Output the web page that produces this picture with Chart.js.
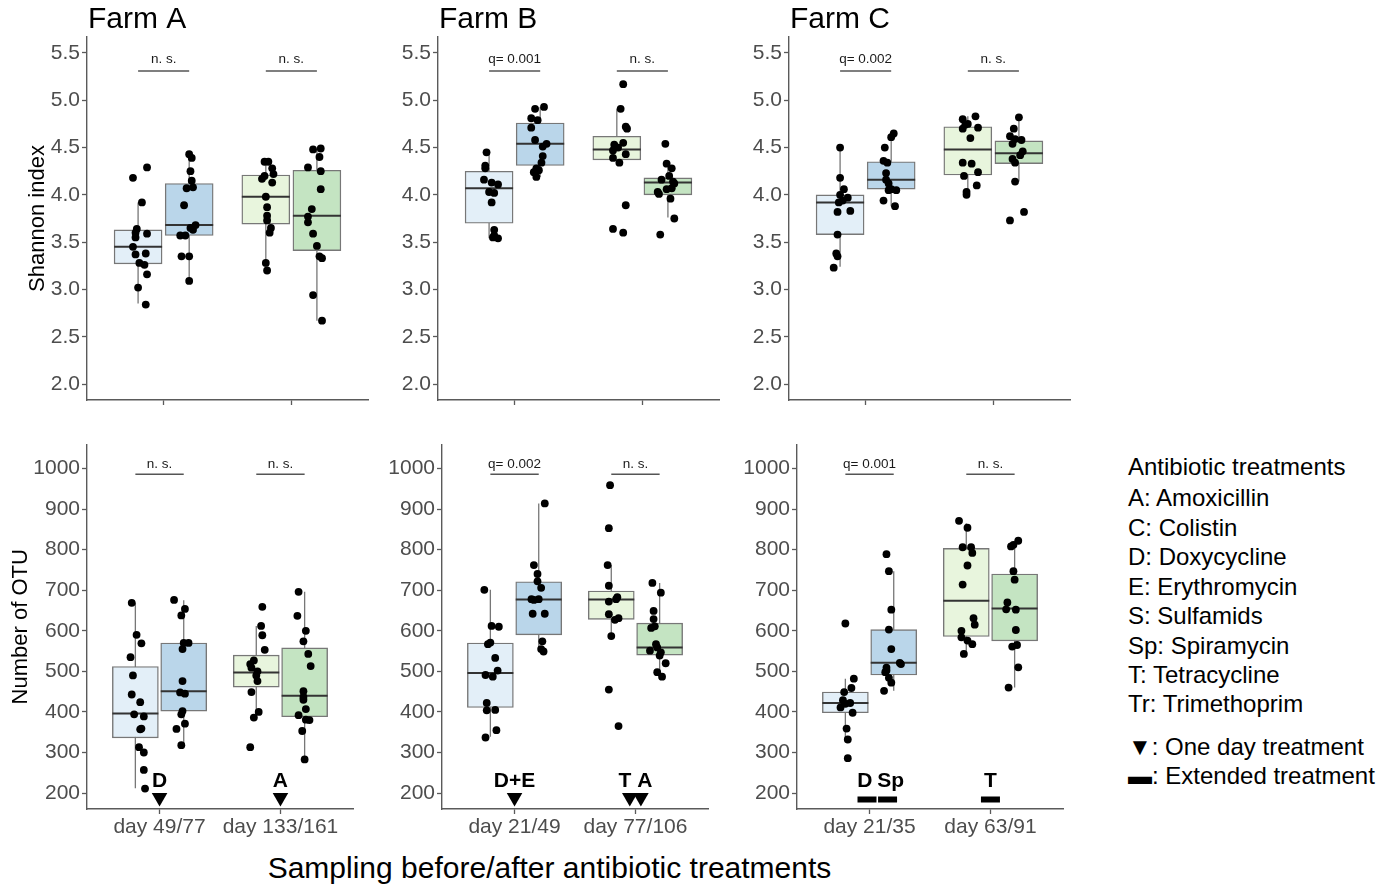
<!DOCTYPE html>
<html lang="en">
<head>
<meta charset="UTF-8">
<title>Alpha diversity before/after antibiotic treatments</title>
<script src="https://cdn.jsdelivr.net/npm/chart.js@4"></script>
<style>
  body { margin: 0; background: #fff; font-family: "Liberation Sans", Arial, sans-serif; }
  #wrap { position: relative; width: 1395px; height: 886px; overflow: hidden; }
  canvas { position: absolute; }
  .xtitle { position: absolute; left: 0; width: 1099px; top: 850px; text-align: center; font-size: 30px; line-height: 36px; color: #000; }
  .leg { position: absolute; left: 1128px; font-size: 24px; line-height: 28px; color: #000; white-space: nowrap; }
</style>
</head>
<body>
<div id="wrap">
  <div class="xtitle">Sampling before/after antibiotic treatments</div>
</div>
<script>
// ---- data ----
const farmNames = ['Farm A', 'Farm B', 'Farm C'];
const daysA = ['day 49/77', 'day 133/161'];
const daysB = ['day 21/49', 'day 77/106'];
const daysC = ['day 21/35', 'day 63/91'];
const shannonTicks = [2.0, 2.5, 3.0, 3.5, 4.0, 4.5, 5.0, 5.5];
const otuTicks = [200, 300, 400, 500, 600, 700, 800, 900, 1000];

// box stats per group: [lower whisker, q1, median, q3, upper whisker]
// groups: day1 before, day1 after, day2 before, day2 after
const shannonA = [
  [4.18, 4.29, 3.92, 3.64, 3.60, 3.55, 3.59, 3.45, 3.37, 3.38, 3.28, 3.26, 3.16, 3.02, 2.84],
  [4.43, 4.39, 4.25, 4.15, 4.07, 4.08, 3.89, 3.65, 3.68, 3.57, 3.57, 3.35, 3.35, 3.09, 3.63],
  [4.35, 4.35, 4.28, 4.17, 4.20, 4.22, 4.13, 3.98, 3.87, 3.78, 3.73, 3.65, 3.60, 3.28, 3.20],
  [4.48, 4.49, 4.40, 4.29, 4.25, 4.06, 3.85, 3.77, 3.71, 3.59, 3.46, 3.35, 3.33, 2.94, 2.67]
];
const shannonAJit = [
  [-4, 7, 3, -1, -2, -2, 7, -4, -2, 6, 1, 5, 7, 0, 6],
  [0, 2, 1, 2, -2, 3, -4, 1, 5, -7, -3, -6, 0, 0, 3],
  [-1, 2, 5, -3, -1, 6, 5, 0, 1, 1, 1, 4, 3, 0, 1],
  [-3, 3, 2, -7, 3, 3, -4, -7, -7, -3, 0, 2, 4, -3, 4]
];
const shannonABox = [[2.85, 3.27, 3.45, 3.63, 3.92], [3.09, 3.57, 3.68, 4.12, 4.40], [3.20, 3.69, 3.98, 4.21, 4.35], [2.67, 3.41, 3.78, 4.26, 4.49]];

const shannonB = [
  [4.45, 4.31, 4.28, 4.16, 4.13, 4.11, 4.03, 4.02, 3.92, 3.63, 3.57, 3.55, 3.54],
  [4.91, 4.93, 4.81, 4.79, 4.71, 4.58, 4.54, 4.51, 4.41, 4.34, 4.28, 4.26, 4.24, 4.19],
  [5.17, 4.91, 4.72, 4.70, 4.55, 4.53, 4.50, 4.47, 4.43, 4.39, 4.34, 3.89, 3.64, 3.60],
  [4.54, 4.33, 4.28, 4.16, 4.20, 4.14, 4.12, 4.07, 4.06, 4.03, 4.01, 3.96, 3.75, 3.58]
];
const shannonBJit = [
  [-2, -3, -3, -4, 2, 7, 0, 4, 2, 4, 4, 3, 7],
  [-4, 3, -7, -2, -7, -4, 5, 2, 2, 1, -3, -1, -5, -3],
  [5, 3, 7, 8, 5, -2, 1, -3, 7, -3, 2, 7, -3, 5],
  [-2, -1, 3, -5, 1, 4, 5, 3, -1, -8, -7, 2, 5, -6]
];
const shannonBBox = [[3.54, 3.70, 4.07, 4.25, 4.45], [4.19, 4.31, 4.54, 4.76, 4.93], [4.33, 4.37, 4.48, 4.62, 4.91], [3.76, 4.00, 4.13, 4.18, 4.33]];

const shannonC = [
  [4.50, 4.18, 4.06, 4.00, 3.97, 3.94, 3.92, 3.82, 3.83, 3.58, 3.38, 3.35, 3.23],
  [4.65, 4.61, 4.50, 4.36, 4.34, 4.23, 4.16, 4.12, 4.06, 4.05, 3.94, 3.88, 4.05],
  [4.83, 4.80, 4.75, 4.74, 4.70, 4.71, 4.60, 4.34, 4.33, 4.24, 4.20, 4.10, 4.03, 4.00],
  [4.82, 4.70, 4.62, 4.59, 4.58, 4.54, 4.46, 4.42, 4.38, 4.34, 4.14, 3.82, 3.73]
];
const shannonCJit = [
  [0, 0, 3, 0, 6, 2, -1, -2, 8, -2, -3, -2, -5],
  [2, 0, -5, -6, -3, -4, -4, -2, 0, 4, -6, 3, -2],
  [6, -4, 0, -2, -4, 8, 2, -4, 3, 8, -3, 7, -1, -1],
  [0, -4, -7, -3, 2, -5, 3, 1, -5, -3, -3, 4, -7]
];
const shannonCBox = [[3.24, 3.58, 3.92, 4.00, 4.50], [3.88, 4.06, 4.16, 4.35, 4.65], [4.02, 4.21, 4.48, 4.72, 4.83], [4.14, 4.33, 4.44, 4.57, 4.82]];

const otuA = [
  [669, 590, 569, 535, 490, 443, 424, 394, 389, 357, 359, 313, 300, 257, 211],
  [676, 654, 638, 570, 570, 555, 476, 448, 445, 402, 394, 371, 358, 318],
  [659, 612, 589, 553, 527, 518, 509, 500, 490, 449, 400, 386, 313, 476],
  [696, 637, 600, 574, 543, 513, 451, 437, 430, 407, 392, 381, 380, 353, 283]
];
const otuAJit = [
  [-3, 1, 5, -4, -2, -3, 4, -1, 7, 4, 5, 3, 7, 7, 8],
  [-8, 1, -2, 0, 4, -1, -1, -3, 1, -1, -2, 1, -6, -2],
  [5, 4, 5, 7, -2, -5, -4, 1, 0, -4, 2, -2, -5, 1],
  [-5, -6, 1, -1, 3, 5, -1, -1, -1, 1, -5, 1, 4, -2, 0]
];
const otuABox = [[212, 336, 396, 512, 669], [318, 402, 451, 570, 675], [386, 461, 497, 540, 612], [283, 388, 440, 558, 696]];

const otuB = [
  [701, 612, 610, 567, 571, 533, 502, 491, 487, 422, 404, 405, 355, 337],
  [914, 762, 740, 722, 706, 678, 678, 642, 642, 574, 549, 555, 676],
  [959, 853, 762, 711, 672, 678, 683, 641, 627, 631, 587, 455, 365],
  [718, 694, 649, 629, 607, 611, 567, 551, 559, 547, 539, 520, 498, 487]
];
const otuBJit = [
  [-5, 1, 7, -2, 0, 4, 6, -4, 2, -3, -3, 4, 5, -4],
  [5, -4, -1, -1, 2, -6, 0, -5, 5, 3, 4, 2, -4],
  [-1, -2, -3, -2, -2, 4, 5, -2, 3, 6, 0, -2, 6],
  [-6, 1, -5, -5, -7, -4, -3, -8, -2, 1, 0, 5, -2, 2]
];
const otuBBox = [[339, 411, 496, 570, 701], [551, 590, 677, 721, 914], [587, 628, 677, 698, 762], [487, 540, 559, 619, 718]];

const otuC = [
  [618, 482, 459, 449, 429, 422, 411, 398, 359, 332, 286, 420],
  [789, 747, 652, 603, 555, 521, 518, 509, 498, 484, 472, 452, 502],
  [871, 854, 806, 806, 792, 761, 714, 631, 615, 600, 584, 576, 567, 543],
  [822, 808, 812, 747, 726, 670, 653, 652, 602, 561, 565, 510, 460]
];
const otuCJit = [
  [0, 7, 5, -1, -2, 4, -4, 6, 1, 2, 2, 0],
  [-6, -4, -2, -4, -2, 5, 6, -6, -7, -4, -2, -8, -6],
  [-6, 1, -3, 4, 5, 1, -3, 6, 7, -4, -4, 1, 5, -2],
  [3, -3, -1, -1, 0, -6, -7, 1, 1, -2, 2, 3, -5]
];
const otuCBox = [[331, 398, 422, 449, 482], [452, 491, 521, 603, 747], [543, 586, 674, 803, 865], [460, 575, 655, 740, 822]];

const shannonSig = [['n. s.', 'n. s.'], ['q= 0.001', 'n. s.'], ['q= 0.002', 'n. s.']];
const otuSig = [['n. s.', 'n. s.'], ['q= 0.002', 'n. s.'], ['q= 0.001', 'n. s.']];

// antibiotic treatments given between the two samplings
const treatTextA = ['D', 'A'];
const treatTextPosA = [1, 2];
const oneDayA = [1, 2];
const extendedA = [];
const treatTextB = ['D+E', 'T A'];
const treatTextPosB = [1, 2];
const oneDayB = [1, 1.953, 2.045];
const extendedB = [];
const treatTextC = ['D', 'Sp', 'T'];
const treatTextPosC = [0.96, 1.174, 2];
const oneDayC = [];
const extendedC = [0.979, 1.149, 2];

const legendLines = ['Antibiotic treatments', 'A: Amoxicillin', 'C: Colistin', 'D: Doxycycline', 'E: Erythromycin',
  'S: Sulfamids', 'Sp: Spiramycin', 'T: Tetracycline', 'Tr: Trimethoprim', '\u25BC: One day treatment', '\u25AC: Extended treatment'];

// ---- styling ----
const FONT = '"Liberation Sans", Arial, sans-serif';
const boxFill = ['#e3eff8', '#bad6ea', '#e8f5dd', '#c4e4c2'];
const axisCol = '#5a5a5a';
const boxLine = '#777';
const groupPos = [0.8, 1.2, 1.8, 2.2];

const wrap = document.getElementById('wrap');

const legendY = [467, 498, 528, 557, 587, 616, 646, 675, 704, 747, 776];
legendLines.forEach((t, i) => {
  const d = document.createElement('div');
  d.className = 'leg';
  d.style.top = (legendY[i] - 14) + 'px';
  d.textContent = t;
  wrap.appendChild(d);
});

const textPlugin = {
  id: 'panelText',
  afterDatasetsDraw(chart, args, opts) {
    const {ctx, chartArea, scales: {x, y}} = chart;
    ctx.save();
    ctx.fillStyle = '#000';
    ctx.textBaseline = 'middle';
    if (opts.title) {
      ctx.font = '30px ' + FONT;
      ctx.textAlign = 'left';
      ctx.fillText(opts.title, chartArea.left + 1, 20);
    }
    (opts.labels || []).forEach(l => {
      ctx.font = l.font;
      ctx.fillStyle = l.color || '#000';
      ctx.textAlign = 'center';
      ctx.fillText(l.text, x.getPixelForValue(l.x), y.getPixelForValue(l.y));
    });
    ctx.restore();
  }
};
Chart.register(textPlugin);

function buildPanel(p) {
  const canvas = document.createElement('canvas');
  canvas.width = p.w;
  canvas.height = p.h;
  canvas.style.left = p.left + 'px';
  canvas.style.top = p.top + 'px';
  wrap.appendChild(canvas);

  const datasets = [];
  // jittered points
  const pts = [];
  p.values.forEach((grp, g) => grp.forEach((v, i) => pts.push({x: groupPos[g] + p.jit[g][i] / 100, y: v})));
  datasets.push({type: 'scatter', data: pts, backgroundColor: '#000', borderWidth: 0, pointRadius: 3.9, order: 0});

  // medians
  datasets.push({
    type: 'scatter', data: p.box.map((b, g) => ({x: groupPos[g], y: b[2]})),
    pointStyle: 'line', pointRadius: p.boxW / 2, borderColor: '#333', borderWidth: 2, order: 1
  });

  // boxes (q1..q3)
  datasets.push({
    type: 'bar', data: p.box.map((b, g) => ({x: groupPos[g], y: [b[1], b[3]]})),
    backgroundColor: boxFill, borderColor: boxLine, borderWidth: 1.4, borderSkipped: false,
    barThickness: p.boxW, order: 2
  });

  // whiskers
  p.box.forEach((b, g) => {
    datasets.push({
      type: 'scatter', showLine: true, data: [{x: groupPos[g], y: b[0]}, {x: groupPos[g], y: b[4]}],
      borderColor: boxLine, borderWidth: 1.3, pointRadius: 0, order: 3
    });
  });

  // significance brackets
  [0, 1].forEach(c => {
    datasets.push({
      type: 'scatter', showLine: true, data: [{x: groupPos[2 * c], y: p.sigY}, {x: groupPos[2 * c + 1], y: p.sigY}],
      borderColor: '#555', borderWidth: 1.4, pointRadius: 0, order: 3
    });
  });

  const labels = p.sig.map((s, c) => ({text: s, x: c + 1, y: p.sigTextY, font: '13.5px ' + FONT, color: '#1a1a1a'}));

  if (p.treatText) {
    datasets.push({
      type: 'scatter', data: p.oneDay.map(v => ({x: v, y: 189})),
      pointStyle: 'triangle', rotation: 180, pointRadius: 9, backgroundColor: '#000', borderColor: '#000', borderWidth: 0, order: 0
    });
    datasets.push({
      type: 'scatter', data: p.extended.map(v => ({x: v, y: 184})),
      pointStyle: 'line', pointRadius: 9.5, borderColor: '#000', borderWidth: 6, order: 0
    });
    p.treatText.forEach((t, i) => labels.push({text: t, x: p.treatPos[i], y: 228, font: 'bold 21px ' + FONT}));
  }

  new Chart(canvas, {
    type: 'scatter',
    data: {datasets},
    options: {
      responsive: false,
      animation: false,
      events: [],
      layout: {autoPadding: false, padding: {top: p.padTop, right: 10, left: 0, bottom: 0}},
      plugins: {
        legend: {display: false},
        tooltip: {enabled: false},
        panelText: {title: p.title, labels}
      },
      scales: {
        x: {
          type: 'linear', min: 0.4, max: 2.6, offset: false,
          afterBuildTicks: s => { s.ticks = [1, 2].map(v => ({value: v})); },
          ticks: {
            display: !!p.days, autoSkip: false, maxRotation: 0, padding: 1,
            color: '#4d4d4d', font: {family: FONT, size: 21},
            callback: v => p.days ? p.days[Math.round(v) - 1] : ''
          },
          grid: {display: true, offset: false, drawOnChartArea: false, drawTicks: true, tickLength: 5, tickColor: axisCol, tickWidth: 1.3},
          border: {display: true, color: axisCol, width: 1.4},
          afterFit: s => { s.height = p.xh; }
        },
        y: {
          type: 'linear', min: p.ymin, max: p.ymax, beginAtZero: false,
          afterBuildTicks: s => { s.ticks = p.yticks.map(v => ({value: v})); },
          ticks: {
            autoSkip: false, padding: 2, color: '#4d4d4d', font: {family: FONT, size: 21},
            callback: v => p.fmt(v)
          },
          grid: {display: true, drawOnChartArea: false, drawTicks: true, tickLength: 5, tickColor: axisCol, tickWidth: 1.3},
          border: {display: true, color: axisCol, width: 1.4},
          title: {
            display: !!p.ytitle, text: p.ytitle || '', color: '#000',
            font: {family: FONT, size: 22}, padding: {top: p.ytp || 0, bottom: 0}
          },
          afterFit: s => { s.width = 87; }
        }
      }
    }
  });
}

const topValues = [shannonA, shannonB, shannonC];
const topJit = [shannonAJit, shannonBJit, shannonCJit];
const topBox = [shannonABox, shannonBBox, shannonCBox];
const botValues = [otuA, otuB, otuC];
const botJit = [otuAJit, otuBJit, otuCJit];
const botBox = [otuABox, otuBBox, otuCBox];
const botDays = [daysA, daysB, daysC];
const botText = [treatTextA, treatTextB, treatTextC];
const botTextPos = [treatTextPosA, treatTextPosB, treatTextPosC];
const botOneDay = [oneDayA, oneDayB, oneDayC];
const botExt = [extendedA, extendedB, extendedC];

const topLeft = [0, 351, 702];
const botLeft = [0, 355, 710];

[0, 1, 2].forEach(f => {
  buildPanel({
    left: topLeft[f], top: 0, w: 378, h: 420, padTop: 37, xh: 20,
    title: farmNames[f],
    values: topValues[f], jit: topJit[f], box: topBox[f], boxW: 48,
    ymin: 1.831, ymax: 5.669, yticks: shannonTicks, fmt: v => v.toFixed(1),
    ytitle: f === 0 ? 'Shannon index' : null, ytp: 25,
    sig: shannonSig[f], sigY: 5.31, sigTextY: 5.43
  });
  buildPanel({
    left: botLeft[f], top: 430, w: 363, h: 456, padTop: 13, xh: 77,
    days: botDays[f],
    values: botValues[f], jit: botJit[f], box: botBox[f], boxW: 46,
    ymin: 160.7, ymax: 1059, yticks: otuTicks, fmt: v => String(v),
    ytitle: f === 0 ? 'Number of OTU' : null, ytp: 8,
    sig: otuSig[f], sigY: 986, sigTextY: 1011,
    treatText: botText[f], treatPos: botTextPos[f], oneDay: botOneDay[f], extended: botExt[f]
  });
});
</script>
</body>
</html>
